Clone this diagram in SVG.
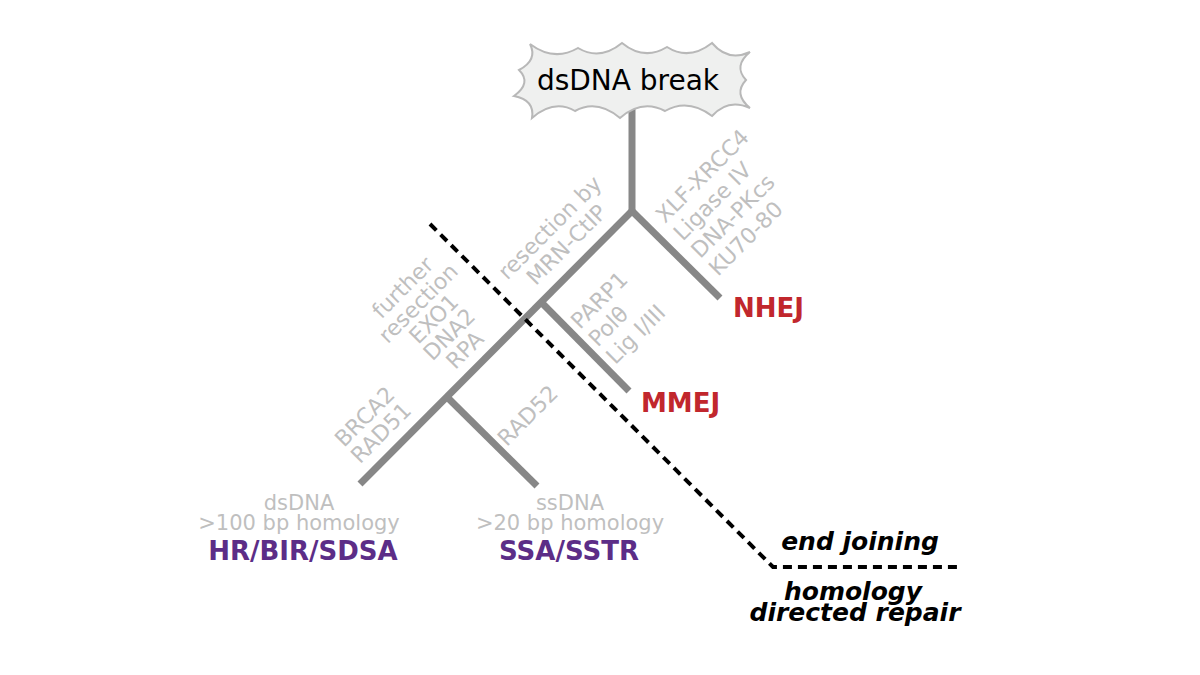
<svg xmlns="http://www.w3.org/2000/svg" width="1200" height="675" viewBox="0 0 1200 675">
<style>
.br{stroke:#878787;stroke-width:7;fill:none;stroke-linecap:butt}
.lab{font-family:"DejaVu Sans",sans-serif;font-size:22px;fill:#bfbfbf}
.sub{font-family:"DejaVu Sans",sans-serif;font-size:21px;fill:#bfbfbf;text-anchor:middle}
.red{font-family:"DejaVu Sans",sans-serif;font-size:26px;font-weight:bold;fill:#c1272d}
.pur{font-family:"DejaVu Sans",sans-serif;font-size:26px;font-weight:bold;fill:#5c2d87;text-anchor:middle}
.cat{font-family:"DejaVu Sans",sans-serif;font-size:25px;font-weight:bold;font-style:italic;fill:#000;text-anchor:middle}
</style>
<rect width="1200" height="675" fill="#fff"/>
<g id="connectors">
<path class="br" d="M632,108 V211"/>
<path class="br" d="M632,211 L720,298"/>
<path class="br" d="M632,211 L360,484"/>
<path class="br" d="M541,302 L629,391"/>
<path class="br" d="M448,398 L537,486"/>
<polyline points="430,224 773,567 960,567" fill="none" stroke="#000" stroke-width="4" stroke-dasharray="9 6"/>
</g>
<g id="break">
<path d="M530,44 Q554,62 578,48 Q600,61 622,43 Q644,61 667,47 Q689,61 712,43 Q728,62 750,52 Q733,66 746,80 Q733,94 750,108 Q728,98 712,116 Q688,98 665,111 Q642,99 620,118 Q597,99 575,111 Q554,99 532,118 Q535,100 514,96 Q532,83 519,70 Q538,60 530,44 Z" fill="#eff0ef" stroke="#b8b8b8" stroke-width="2"/>
<text x="628" y="90" font-family="DejaVu Sans, sans-serif" font-size="28" text-anchor="middle" fill="#000">dsDNA break</text>
</g>
<g id="nhej-factors" transform="translate(665,224) rotate(-45)">
<text class="lab" x="0" y="0">XLF-XRCC4</text>
<text class="lab" x="0" y="25">Ligase IV</text>
<text class="lab" x="0" y="50">DNA-PKcs</text>
<text class="lab" x="0" y="75">KU70-80</text>
</g>
<g id="resection" transform="translate(555,233) rotate(-45)">
<text class="lab" x="0" y="0" text-anchor="middle">resection by</text>
<text class="lab" x="0" y="24" text-anchor="middle">MRN-CtIP</text>
</g>
<g id="further" transform="translate(408,293) rotate(-45)">
<text class="lab" x="0" y="0" text-anchor="middle">further</text>
<text class="lab" x="0" y="22" text-anchor="middle">resection</text>
<text class="lab" x="0" y="44" text-anchor="middle">EXO1</text>
<text class="lab" x="0" y="66" text-anchor="middle">DNA2</text>
<text class="lab" x="0" y="88" text-anchor="middle">RPA</text>
</g>
<g id="mmej-factors" transform="translate(580,330) rotate(-45)">
<text class="lab" x="0" y="0">PARP1</text>
<text class="lab" x="0" y="25">Polθ</text>
<text class="lab" x="0" y="50">Lig I/III</text>
</g>
<g id="brca" transform="translate(370,422) rotate(-45)">
<text class="lab" x="0" y="0" text-anchor="middle">BRCA2</text>
<text class="lab" x="0" y="23" text-anchor="middle">RAD51</text>
</g>
<g id="rad52" transform="translate(533,421) rotate(-45)">
<text class="lab" x="0" y="0" text-anchor="middle">RAD52</text>
</g>
<g id="nhej"><text class="red" x="733" y="317">NHEJ</text></g>
<g id="mmej"><text class="red" x="641" y="412">MMEJ</text></g>
<g id="hr">
<text class="sub" x="299" y="510">dsDNA</text>
<text class="sub" x="299" y="530">&gt;100 bp homology</text>
<text class="pur" x="303" y="560">HR/BIR/SDSA</text>
</g>
<g id="ssa">
<text class="sub" x="570" y="510">ssDNA</text>
<text class="sub" x="570" y="530">&gt;20 bp homology</text>
<text class="pur" x="569" y="560">SSA/SSTR</text>
</g>
<g id="legend">
<text class="cat" x="860" y="550">end joining</text>
<text class="cat" x="853" y="600">homology</text>
<text class="cat" x="855" y="621">directed repair</text>
</g>
</svg>
